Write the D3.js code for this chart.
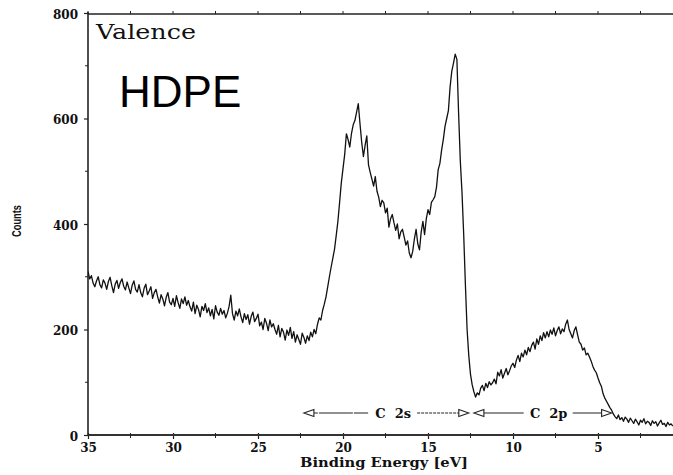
<!DOCTYPE html>
<html>
<head>
<meta charset="utf-8">
<script src="https://cdn.jsdelivr.net/npm/d3@7"></script>
<style>
  html, body { margin: 0; padding: 0; background: #fff; }
  svg { display: block; }
  .tick-label { font-family: "DejaVu Serif", serif; font-weight: bold; font-size: 12px; fill: #111; }
</style>
</head>
<body>
<svg id="chart" width="673" height="475"></svg>
<script>
// Valence-band XPS spectrum of HDPE, sampled every 0.1 eV from 35.0 eV down to 0.6 eV
const energyStart = 35.0;
const energyStep = 0.1;
const counts = [
  310, 296, 302, 288, 281, 292, 300, 285, 279, 294,   // 35.0 - 34.1
  288, 276, 291, 299, 283, 270, 286, 293, 278, 289,   // 34.0 - 33.1
  296, 282, 275, 290, 279, 268, 284, 292, 276, 271,   // 33.0 - 32.1
  285, 270, 262, 278, 286, 266, 273, 281, 259, 270,   // 32.0 - 31.1
  276, 262, 250, 266, 258, 245, 261, 270, 252, 247,   // 31.0 - 30.1
  259, 244, 264, 251, 240, 258, 249, 262, 246, 255,   // 30.0 - 29.1
  243, 235, 252, 230, 246, 238, 224, 244, 236, 249,   // 29.0 - 28.1
  232, 241, 226, 238, 220, 245, 233, 227, 240, 229,   // 28.0 - 27.1
  236, 222, 231, 244, 265, 230, 218, 235, 226, 239,   // 27.0 - 26.1
  224, 213, 230, 219, 228, 210, 225, 233, 215, 221,   // 26.0 - 25.1
  229, 207, 214, 200, 221, 212, 198, 218, 205, 211,   // 25.0 - 24.1
  200, 191, 208, 186, 202, 195, 180, 199, 189, 204,   // 24.0 - 23.1
  183, 196, 176, 190, 181, 172, 193, 185, 174, 188,   // 23.0 - 22.1
  179, 195, 186, 200, 192, 210, 222, 218, 236, 248,   // 22.0 - 21.1
  262, 281, 300, 318, 335, 352, 378, 405, 441, 478,   // 21.0 - 20.1
  505, 532, 571, 560, 546, 572, 588, 596, 612, 628,   // 20.0 - 19.1
  590, 555, 528, 549, 567, 512, 498, 485, 472, 490,   // 19.0 - 18.1
  462, 451, 433, 445, 440, 421, 430, 394, 410, 418,   // 18.0 - 17.1
  402, 388, 400, 372, 385, 390, 375, 360, 368, 345,   // 17.0 - 16.1
  336, 348, 372, 390, 362, 351, 385, 405, 380, 410,   // 16.0 - 15.1
  427, 418, 441, 446, 452, 470, 503, 515, 540, 560,   // 15.0 - 14.1
  585, 600, 615, 660, 690, 705, 722, 712, 610, 520,   // 14.0 - 13.1
  460, 380, 285, 200, 150, 115,  95,  82,  72,  80,   // 13.0 - 12.1
   76,  89,  94,  84,  98,  90, 101,  95,  99, 106,   // 12.0 - 11.1
   97, 119, 112, 124, 108, 117, 126, 114, 122, 131,   // 11.0 - 10.1
  136, 128, 142, 151, 139, 155, 148, 161, 152, 166,   // 10.0 - 9.1
  158, 170, 176, 163, 182, 172, 188, 179, 194, 184,   // 9.0 - 8.1
  196, 186, 199, 191, 203, 188, 198, 205, 192, 201,   // 8.0 - 7.1
  196, 210, 218, 200, 192, 184, 198, 205, 190, 176,   // 7.0 - 6.1
  172, 161, 165, 152, 155, 148, 140, 130, 123, 118,   // 6.0 - 5.1
  108,  99,  92,  78,  70,  64,  58,  52,  47,  40,   // 5.0 - 4.1
   35,  31,  38,  29,  33,  26,  34,  30,  24,  32,   // 4.0 - 3.1
   27,  22,  30,  25,  19,  28,  24,  31,  21,  26,   // 3.0 - 2.1
   24,  18,  27,  22,  25,  17,  23,  28,  20,  22,   // 2.0 - 1.1
   16,  24,  19,  21,  17                             // 1.0 - 0.6
];

// Axis ticks
const xMajorTicks = [35, 30, 25, 20, 15, 10, 5];
const xMinorTicks = [32.5, 27.5, 22.5, 17.5, 12.5, 7.5, 2.5];
const yMajorTicks = [0, 200, 400, 600, 800];
const yMinorTicks = [100, 300, 500, 700];

// Band annotations: [from eV, to eV, label, label centre eV]
const bandNames = ["C  2s", "C  2p"];
const bandFrom = [22.3, 12.3];
const bandTo = [12.6, 4.2];
const bandLabelAt = [17.05, 7.9];

const svg = d3.select("#chart");
const W = 673;

const x = d3.scaleLinear().domain([35, 0]).range([88, 683]);
const y = d3.scaleLinear().domain([0, 800]).range([435, 13]);

const data = counts.map((c, i) => ({ e: +(energyStart - i * energyStep).toFixed(2), c }));

// Frame: top border line
svg.append("line")
  .attr("x1", x(35)).attr("x2", W)
  .attr("y1", y(800) + 1).attr("y2", y(800) + 1)
  .attr("stroke", "#222").attr("stroke-width", 1.3);

// Top minor ticks
svg.append("g")
  .selectAll("line")
  .data(xMajorTicks.concat(xMinorTicks))
  .join("line")
  .attr("x1", d => x(d)).attr("x2", d => x(d))
  .attr("y1", y(800) + 1).attr("y2", y(800) - 2)
  .attr("stroke", "#222").attr("stroke-width", 1);

// Bottom axis
const xAxis = d3.axisBottom(x)
  .tickValues(xMajorTicks)
  .tickSize(4)
  .tickPadding(3)
  .tickFormat(d3.format("d"));
const gx = svg.append("g").attr("transform", `translate(0,${y(0)})`).call(xAxis);
gx.select(".domain").remove();
gx.selectAll(".tick line").attr("stroke", "#222").attr("stroke-width", 1.2).attr("y1", -2);
gx.selectAll(".tick text").attr("class", "tick-label").attr("font-size", null).attr("font-family", null)
  .attr("dy", "0.85em");
svg.append("line")
  .attr("x1", x(35)).attr("x2", W)
  .attr("y1", y(0)).attr("y2", y(0))
  .attr("stroke", "#333").attr("stroke-width", 1.8);
svg.append("g")
  .selectAll("line")
  .data(xMinorTicks)
  .join("line")
  .attr("x1", d => x(d)).attr("x2", d => x(d))
  .attr("y1", y(0) - 2).attr("y2", y(0) + 3)
  .attr("stroke", "#222").attr("stroke-width", 1);

// Left axis
const yAxis = d3.axisLeft(y)
  .tickValues(yMajorTicks)
  .tickSize(4)
  .tickPadding(6)
  .tickFormat(d3.format("d"));
const gy = svg.append("g").attr("transform", `translate(${x(35)},0)`).call(yAxis);
gy.select(".domain").remove();
gy.selectAll(".tick line").attr("stroke", "#222").attr("stroke-width", 1.2);
gy.selectAll(".tick text").attr("class", "tick-label").attr("font-size", null).attr("font-family", null)
  .attr("dy", "0.45em");
svg.append("line")
  .attr("x1", x(35)).attr("x2", x(35))
  .attr("y1", y(800) - 1).attr("y2", y(0) + 1)
  .attr("stroke", "#222").attr("stroke-width", 1.6);
svg.append("g")
  .selectAll("line")
  .data(yMinorTicks)
  .join("line")
  .attr("x1", x(35) - 3).attr("x2", x(35))
  .attr("y1", d => y(d)).attr("y2", d => y(d))
  .attr("stroke", "#222").attr("stroke-width", 1);

// Axis titles
svg.append("text")
  .attr("x", 384).attr("y", 467)
  .attr("text-anchor", "middle")
  .attr("font-family", "DejaVu Serif, serif")
  .attr("font-weight", "bold")
  .attr("font-size", 12)
  .attr("textLength", 168)
  .attr("lengthAdjust", "spacingAndGlyphs")
  .attr("fill", "#111")
  .text("Binding Energy [eV]");

svg.append("text")
  .attr("transform", "translate(21,221) rotate(-90)")
  .attr("text-anchor", "middle")
  .attr("font-family", "Liberation Sans, sans-serif")
  .attr("font-weight", "bold")
  .attr("font-size", 12)
  .attr("textLength", 32)
  .attr("lengthAdjust", "spacingAndGlyphs")
  .attr("fill", "#111")
  .text("Counts");

// Spectrum trace
svg.append("defs").append("clipPath").attr("id", "plot-clip")
  .append("rect").attr("x", x(35)).attr("y", 0).attr("width", W - x(35)).attr("height", y(0));

const line = d3.line().x(d => x(d.e)).y(d => y(d.c));
svg.append("path")
  .datum(data)
  .attr("clip-path", "url(#plot-clip)")
  .attr("fill", "none")
  .attr("stroke", "#111")
  .attr("stroke-width", 1.3)
  .attr("stroke-linejoin", "round")
  .attr("d", line);

// Band range arrows
const arrowY = 413;
function arrowHead(px, dir) {
  // open triangle pointing in direction dir (-1 left, +1 right)
  const len = 10, half = 3.5;
  const tip = px, base = px - dir * len;
  svg.append("path")
    .attr("d", `M${tip},${arrowY} L${base},${arrowY - half} L${base},${arrowY + half} Z`)
    .attr("fill", "#fff").attr("stroke", "#222").attr("stroke-width", 1.1);
}
bandNames.forEach((name, i) => {
  const x0 = x(bandFrom[i]), x1 = x(bandTo[i]), xc = x(bandLabelAt[i]);
  const halfText = 22;
  svg.append("line")
    .attr("x1", x0 + 10).attr("x2", xc - halfText - 3)
    .attr("y1", arrowY).attr("y2", arrowY)
    .attr("stroke", "#222").attr("stroke-width", 1)
    .attr("stroke-dasharray", i === 0 ? "4,1,30,0" : null);
  svg.append("line")
    .attr("x1", xc + halfText + 2).attr("x2", x1 - 10)
    .attr("y1", arrowY).attr("y2", arrowY)
    .attr("stroke", "#222").attr("stroke-width", 1)
    .attr("stroke-dasharray", i === 0 ? "3,1" : null);
  arrowHead(x0, -1);
  arrowHead(x1, 1);
  svg.append("text")
    .attr("x", xc).attr("y", arrowY + 5)
    .attr("text-anchor", "middle")
    .attr("font-family", "DejaVu Serif, serif")
    .attr("font-weight", "bold")
    .attr("font-size", 13)
    .attr("fill", "#111")
    .attr("xml:space", "preserve")
    .style("white-space", "pre")
    .text(name);
});

// Panel labels
svg.append("text")
  .attr("x", 96).attr("y", 39)
  .attr("font-family", "DejaVu Serif, serif")
  .attr("font-size", 20)
  .attr("textLength", 100)
  .attr("lengthAdjust", "spacingAndGlyphs")
  .attr("fill", "#111")
  .text("Valence");

svg.append("text")
  .attr("x", 119).attr("y", 107)
  .attr("font-family", "Liberation Sans, Arial, sans-serif")
  .attr("font-size", 44)
  .attr("fill", "#000")
  .text("HDPE");
</script>
</body>
</html>
